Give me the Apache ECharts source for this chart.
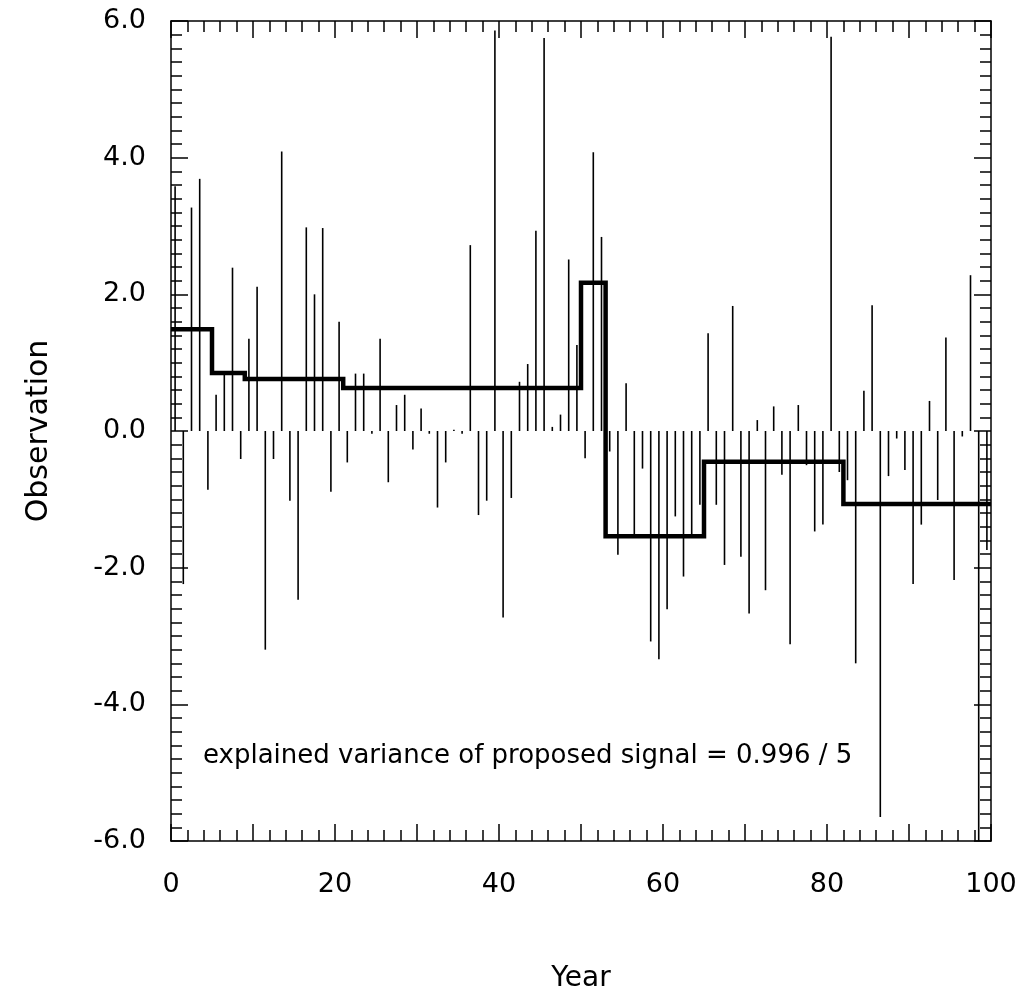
<!DOCTYPE html>
<html>
<head>
<meta charset="utf-8">
<script src="https://cdn.jsdelivr.net/npm/echarts@6/dist/echarts.min.js"></script>
<style>
html,body{margin:0;padding:0;background:#fff;}
#chart{width:1019px;height:991px;}
</style>
</head>
<body>
<div id="chart"></div>
<script>
// Observation times (years)
const years = [
  0.5, 1.5, 2.5, 3.5, 4.5, 5.5, 6.5, 7.5, 8.5, 9.5,
  10.5, 11.5, 12.5, 13.5, 14.5, 15.5, 16.5, 17.5, 18.5, 19.5,
  20.5, 21.5, 22.5, 23.5, 24.5, 25.5, 26.5, 27.5, 28.5, 29.5,
  30.5, 31.5, 32.5, 33.5, 34.5, 35.5, 36.5, 37.5, 38.5, 39.5,
  40.5, 41.5, 42.5, 43.5, 44.5, 45.5, 46.5, 47.5, 48.5, 49.5,
  50.5, 51.5, 52.5, 53.5, 54.5, 55.5, 56.5, 57.5, 58.5, 59.5,
  60.5, 61.5, 62.5, 63.5, 64.5, 65.5, 66.5, 67.5, 68.5, 69.5,
  70.5, 71.5, 72.5, 73.5, 74.5, 75.5, 76.5, 77.5, 78.5, 79.5,
  80.5, 81.5, 82.5, 83.5, 84.5, 85.5, 86.5, 87.5, 88.5, 89.5,
  90.5, 91.5, 92.5, 93.5, 94.5, 95.5, 96.5, 97.5, 98.5, 99.5
];
// Observed values
const observations = [
  3.58, -2.24, 3.27, 3.69, -0.86, 0.53, 0.86, 2.39, -0.41, 1.35,
  2.11, -3.20, -0.41, 4.09, -1.02, -2.47, 2.98, 2.00, 2.97, -0.89,
  1.60, -0.46, 0.84, 0.84, -0.04, 1.35, -0.75, 0.38, 0.53, -0.27,
  0.33, -0.04, -1.12, -0.46, 0.02, -0.04, 2.72, -1.23, -1.02, 5.86,
  -2.73, -0.98, 0.72, 0.98, 2.93, 5.75, 0.06, 0.24, 2.51, 1.26,
  -0.40, 4.08, 2.84, -0.30, -1.81, 0.70, -1.52, -0.55, -3.08, -3.34,
  -2.61, -1.25, -2.13, -1.52, -1.08, 1.43, -1.08, -1.96, 1.83, -1.84,
  -2.67, 0.16, -2.33, 0.36, -0.64, -3.12, 0.38, -0.50, -1.47, -1.37,
  5.77, -0.60, -0.72, -3.40, 0.59, 1.84, -5.65, -0.66, -0.11, -0.57,
  -2.24, -1.37, 0.44, -1.01, 1.37, -2.18, -0.08, 2.28, -6.20, -1.74
];
// Proposed step signal: segment boundaries and levels
const segmentBounds = [0, 5, 9, 21, 50, 53, 65, 82, 100];
const segmentLevels = [1.49, 0.85, 0.76, 0.63, 2.17, -1.54, -0.45, -1.07];
const xTickLabels = [0, 20, 40, 60, 80, 100];
const annotation = 'explained variance of proposed signal = 0.996 / 5';

const barData = years.map((x, i) => [x, observations[i]]);
const stepData = [];
segmentLevels.forEach((lv, i) => {
  stepData.push([segmentBounds[i], lv]);
  stepData.push([segmentBounds[i + 1], lv]);
});

const FONT = 'DejaVu Sans';
const xCommon = {
  type: 'value', min: 0, max: 100, interval: 10,
  axisLine: { show: true, onZero: false, lineStyle: { color: '#000', width: 1.5 } },
  axisTick: { show: true, inside: true, length: 17, lineStyle: { color: '#000', width: 1.5 } },
  minorTick: { show: true, splitNumber: 5, length: 11, lineStyle: { color: '#000', width: 1.5 } },
  splitLine: { show: false }, minorSplitLine: { show: false }
};
const yCommon = {
  type: 'value', min: -6, max: 6, interval: 2,
  axisLine: { show: true, onZero: false, lineStyle: { color: '#000', width: 1.5 } },
  axisTick: { show: true, inside: true, length: 17, lineStyle: { color: '#000', width: 1.5 } },
  minorTick: { show: true, splitNumber: 10, length: 11, lineStyle: { color: '#000', width: 1.5 } },
  splitLine: { show: false }, minorSplitLine: { show: false }
};

const chart = echarts.init(document.getElementById('chart'), null, { renderer: 'canvas' });
chart.setOption({
  animation: false,
  backgroundColor: '#fff',
  grid: { left: 171, right: 28, top: 21, bottom: 150, show: false,
          containLabel: false, outerBoundsMode: 'none' },
  xAxis: [
    Object.assign({}, xCommon, {
      position: 'bottom',
      name: 'Year', nameLocation: 'middle', nameGap: 124,
      nameTextStyle: { fontFamily: FONT, fontSize: 28, color: '#000' },
      axisLabel: {
        show: true, margin: 30, color: '#000', fontFamily: FONT, fontSize: 27,
        formatter: v => (xTickLabels.indexOf(v) >= 0 ? String(v) : '')
      }
    }),
    Object.assign({}, xCommon, { position: 'top', axisLabel: { show: false } })
  ],
  yAxis: [
    Object.assign({}, yCommon, {
      position: 'left',
      name: 'Observation', nameLocation: 'middle', nameGap: 117, nameRotate: 90,
      nameTextStyle: { fontFamily: FONT, fontSize: 30, color: '#000' },
      axisLabel: {
        show: true, margin: 25, color: '#000', fontFamily: FONT, fontSize: 27,
        formatter: v => v.toFixed(1)
      }
    }),
    Object.assign({}, yCommon, { position: 'right', axisLabel: { show: false } })
  ],
  series: [
    {
      type: 'bar', xAxisIndex: 0, yAxisIndex: 0,
      data: barData, barWidth: 1.6, clip: true,
      itemStyle: { color: '#000' }, z: 2
    },
    {
      type: 'line', xAxisIndex: 0, yAxisIndex: 0,
      data: stepData, symbol: 'none', clip: true,
      lineStyle: { color: '#000', width: 4.5, join: 'miter' }, z: 3
    }
  ],
  graphic: [
    {
      type: 'text', left: 203, top: 743,
      style: { text: annotation, font: '26px "DejaVu Sans"', fill: '#000' }
    }
  ]
});
</script>
</body>
</html>
